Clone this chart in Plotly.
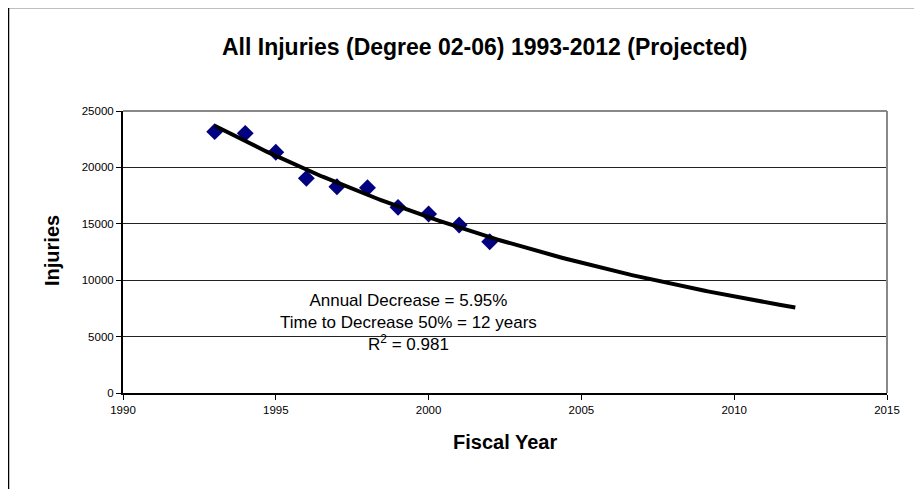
import numpy as np
import plotly.graph_objects as go

years = [1993, 1994, 1995, 1996, 1997, 1998, 1999, 2000, 2001, 2002]
injuries = [23170, 23020, 21340, 19030, 18290, 18200, 16460, 15870, 14890, 13410]

title = "All Injuries (Degree 02-06) 1993-2012 (Projected)"
x_title = "Fiscal Year"
y_title = "Injuries"
note_lines = ["Annual Decrease = 5.95%", "Time to Decrease 50% = 12 years", "R<sup>2</sup> = 0.981"]
x_ticks = [1990, 1995, 2000, 2005, 2010, 2015]
y_ticks = [0, 5000, 10000, 15000, 20000, 25000]

# exponential trend fitted to the data (log-linear least squares), projected to 2012
b, a = np.polyfit(years, np.log(injuries), 1)
tx = np.linspace(1993, 2012, 200)
trend = np.exp(a + b * tx)

# page offset (body margin) compensation
OFF = 8
W, H = 922 - OFF, 489 - OFF
L, R, T, B = 123 - OFF, 887 - OFF, 111 - OFF, 393 - OFF

def pxx(p):
    return (p - OFF - L) / (R - L)

def pxy(p):
    return (B - (p - OFF)) / (B - T)

fig = go.Figure()
fig.add_trace(go.Scatter(x=years, y=injuries, mode="markers",
                         marker=dict(symbol="diamond", size=13, color="#000080"),
                         showlegend=False))
fig.add_trace(go.Scatter(x=tx, y=trend, mode="lines",
                         line=dict(color="black", width=4),
                         showlegend=False, hoverinfo="skip"))

fig.update_layout(
    width=W, height=H,
    margin=dict(l=L, r=W - R, t=T, b=H - B),
    paper_bgcolor="white", plot_bgcolor="white",
    font=dict(family="Liberation Sans, Arial, sans-serif", color="black"),
    xaxis=dict(range=[1990, 2015], tickvals=x_ticks, tickformat="d",
               ticks="outside", ticklen=5, tickcolor="black", tickfont=dict(size=11.5),
               showgrid=False, zeroline=False, showline=True, linecolor="black", linewidth=2),
    yaxis=dict(range=[0, 25000], tickvals=y_ticks, tickformat="d",
               ticks="outside", ticklen=5, tickcolor="black", tickfont=dict(size=11.5),
               showgrid=True, gridcolor="#222222", gridwidth=1, zeroline=False,
               showline=True, linecolor="black", linewidth=2),
    shapes=[
        dict(type="line", xref="paper", yref="paper", x0=0, x1=1, y0=1, y1=1,
             line=dict(color="#888888", width=2)),
        dict(type="line", xref="paper", yref="paper", x0=1, x1=1, y0=0, y1=1,
             line=dict(color="#888888", width=2)),
        dict(type="line", xref="paper", yref="paper", x0=pxx(8), x1=pxx(8), y0=pxy(7), y1=pxy(500),
             line=dict(color="black", width=2.5)),
        dict(type="line", xref="paper", yref="paper", x0=pxx(7), x1=pxx(940), y0=pxy(7), y1=pxy(7),
             line=dict(color="black", width=2.5)),
    ],
    annotations=[
        dict(text="<b>" + title + "</b>", x=pxx(484), y=pxy(47), xref="paper", yref="paper",
             showarrow=False, font=dict(size=23), xanchor="center", yanchor="middle"),
        dict(text="<b>" + x_title + "</b>", x=pxx(505), y=pxy(442), xref="paper", yref="paper",
             showarrow=False, font=dict(size=20), xanchor="center", yanchor="middle"),
        dict(text="<b>" + y_title + "</b>", x=pxx(52), y=pxy(251), xref="paper", yref="paper",
             showarrow=False, font=dict(size=20), textangle=-90, xanchor="center", yanchor="middle"),
        dict(text="<br>".join(note_lines), x=pxx(408), y=pxy(322), xref="paper", yref="paper",
             showarrow=False, font=dict(size=17), align="center", xanchor="center", yanchor="middle"),
    ],
)

fig.write_html("out.html")
